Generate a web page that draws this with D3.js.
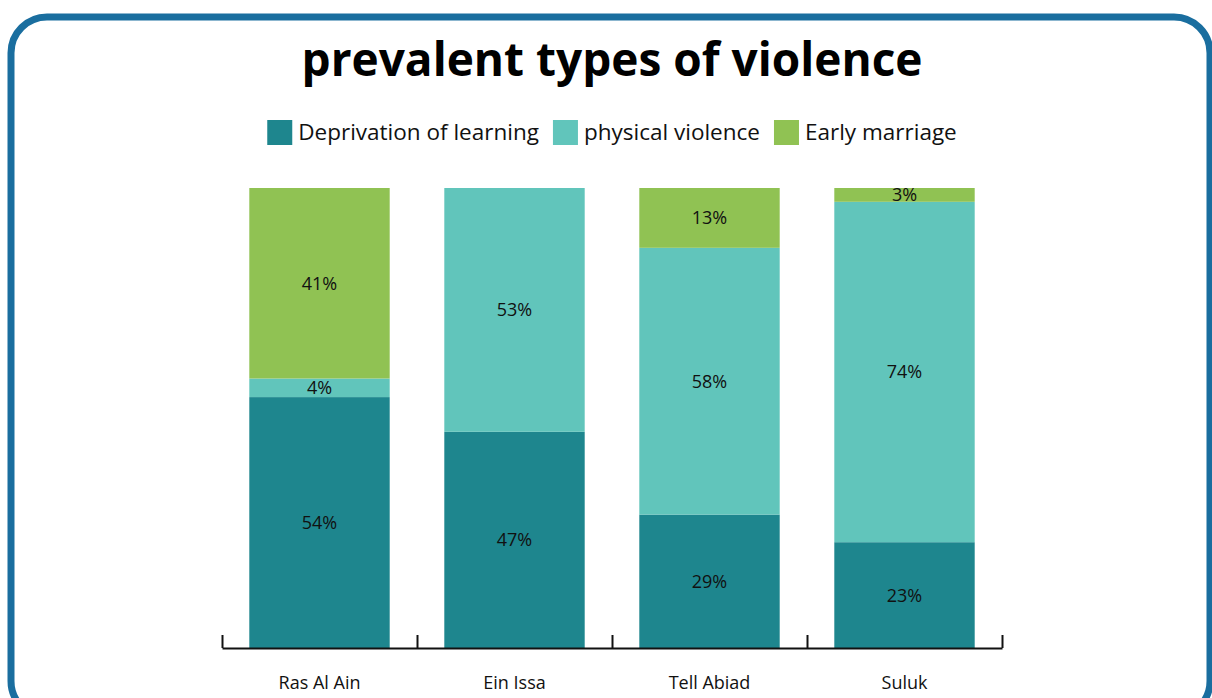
<!DOCTYPE html>
<html>
<head>
<meta charset="utf-8">
<script src="https://cdn.jsdelivr.net/npm/d3@7"></script>
<style>
  body { margin: 0; background: #fff; }
  svg { display: block; font-family: "Open Sans", sans-serif; }
</style>
</head>
<body>
<svg id="chart" width="1212" height="698"></svg>
<script>
// data
var towns = ["Ras Al Ain", "Ein Issa", "Tell Abiad", "Suluk"];
var seriesNames = ["Deprivation of learning", "physical violence", "Early marriage"];
var deprivation = [54, 47, 29, 23];
var physical = [4, 53, 58, 74];
var earlyMarriage = [41, 0, 13, 3];
var colors = ["#1e868e", "#61c5bb", "#90c253"];

var rows = towns.map(function(t, i) {
  return {town: t, "Deprivation of learning": deprivation[i],
          "physical violence": physical[i], "Early marriage": earlyMarriage[i]};
});

var svg = d3.select("#chart");

// rounded frame
svg.append("rect")
  .attr("x", 11).attr("y", 17)
  .attr("width", 1199).attr("height", 700)
  .attr("rx", 36).attr("ry", 36)
  .attr("fill", "none")
  .attr("stroke", "#1a6e9f")
  .attr("stroke-width", 7);

// title
svg.append("text")
  .attr("x", 612).attr("y", 76)
  .attr("text-anchor", "middle")
  .style("font-size", "46px")
  .style("font-weight", "700")
  .text("prevalent types of violence");

// set the dimensions of the plot
var margin = {top: 188, left: 222, right: 210, bottom: 50},
  width = 1212 - margin.left - margin.right,
  height = 698 - margin.top - margin.bottom;

var g = svg.append("g")
  .attr("transform", "translate(" + margin.left + "," + margin.top + ")");

var x = d3.scaleBand().domain(towns).range([0, width])
  .paddingInner(0.28).paddingOuter(0.14);
var y = d3.scaleLinear().domain([0, 1]).range([height, 0]);
var color = d3.scaleOrdinal().domain(seriesNames).range(colors);

var stacked = d3.stack().keys(seriesNames).offset(d3.stackOffsetExpand)(rows);

var layer = g.selectAll("g.layer")
  .data(stacked)
  .enter().append("g")
  .attr("class", "layer")
  .attr("fill", function(d) { return color(d.key); });

layer.selectAll("rect")
  .data(function(d) { return d; })
  .enter().append("rect")
  .attr("x", function(d) { return x(d.data.town); })
  .attr("y", function(d) { return y(d[1]); })
  .attr("width", x.bandwidth())
  .attr("height", function(d) { return y(d[0]) - y(d[1]); });

// value labels
stacked.forEach(function(s) {
  g.selectAll(null)
    .data(s.filter(function(d) { return d.data[s.key] > 0; }))
    .enter().append("text")
    .attr("x", function(d) { return x(d.data.town) + x.bandwidth() / 2; })
    .attr("y", function(d) { return (y(d[0]) + y(d[1])) / 2; })
    .attr("dy", "0.36em")
    .attr("text-anchor", "middle")
    .style("font-size", "18px")
    .attr("fill", "#111")
    .text(function(d) { return d.data[s.key] + "%"; });
});

// axis with ticks between the bars
var edge = d3.scaleLinear().domain([0, towns.length]).range([0, width]);
g.append("g")
  .attr("transform", "translate(0," + height + ")")
  .call(d3.axisBottom(edge).tickValues(d3.range(towns.length + 1))
    .tickSize(-13).tickSizeOuter(0).tickFormat(""))
  .call(function(a) {
    a.selectAll("path, line").attr("stroke", "#111").attr("stroke-width", 2);
  });

g.selectAll(null)
  .data(towns)
  .enter().append("text")
  .attr("x", function(d) { return x(d) + x.bandwidth() / 2; })
  .attr("y", height + 41)
  .attr("text-anchor", "middle")
  .style("font-size", "18px")
  .attr("fill", "#111")
  .text(function(d) { return d; });

// legend
var legend = svg.append("g");
var lx = 0;
seriesNames.forEach(function(name) {
  var item = legend.append("g").attr("transform", "translate(" + lx + ",0)");
  item.append("rect").attr("width", 25).attr("height", 25).attr("y", 120)
    .attr("fill", color(name));
  var t = item.append("text").attr("x", 31).attr("y", 140)
    .style("font-size", "22.5px").attr("fill", "#111").text(name);
  lx += 31 + t.node().getComputedTextLength() + 14;
});
lx -= 14;
legend.attr("transform", "translate(" + (612 - lx / 2) + ",0)");
</script>
</body>
</html>
